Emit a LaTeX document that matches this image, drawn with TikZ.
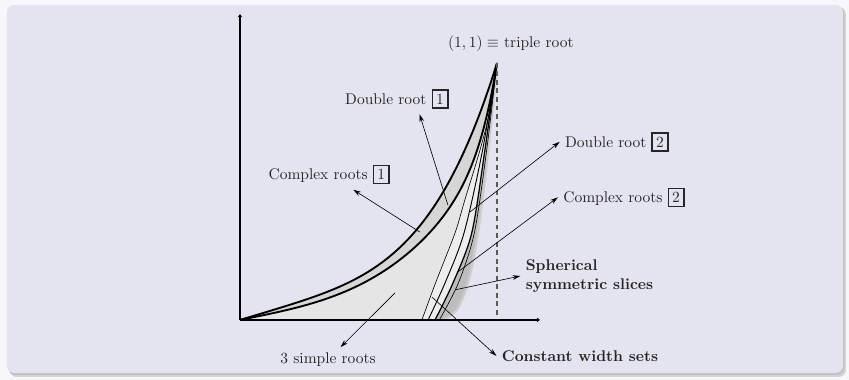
\documentclass[tikz,border=0pt]{standalone}
\usepackage{amsmath,amssymb}
\usepackage{tikz}
\usetikzlibrary{arrows.meta}

\definecolor{pagebg}{RGB}{247,246,251}
\definecolor{blockbg}{RGB}{228,227,240}
\definecolor{bandgray}{gray}{0.84}
\definecolor{simplegray}{gray}{0.90}
\definecolor{cwgray}{gray}{0.93}
\definecolor{cplxgray}{gray}{0.74}
\definecolor{rimgray}{gray}{0.80}

\setlength{\fboxrule}{1pt}
\setlength{\fboxsep}{2pt}

% boundary curves, (1,1) is the triple root
\newcommand{\curveU}{plot[domain=0.001:1,samples=80,smooth] (\x,{0.3*\x+0.7*\x^4.2})}
\newcommand{\curveL}{plot[domain=0.001:1,samples=80,smooth] (\x,{0.2*\x+0.5*\x^3.2+0.3*\x^15})}
\newcommand{\curveA}{plot[smooth] coordinates {(0.708,0) (0.761,0.144) (0.837,0.339) (0.875,0.467) (0.934,0.661) (0.973,0.817) (1,1)}}
\newcommand{\curveB}{plot[smooth] coordinates {(0.732,0) (0.798,0.144) (0.872,0.339) (0.944,0.661) (1,1)}}
\newcommand{\curveC}{plot[smooth] coordinates {(0.759,0) (0.829,0.144) (0.902,0.339) (0.953,0.661) (1,1)}}
\newcommand{\curveD}{plot[smooth] coordinates {(0.776,0) (0.850,0.144) (0.912,0.339) (0.960,0.661) (1,1)}}
\newcommand{\curveE}{plot[smooth] coordinates {(0.79,0) (0.843,0.039) (0.887,0.144) (0.926,0.339) (0.966,0.661) (1,1)}}

\tikzset{
  lbl/.style={text=black!85},
  bold/.style={text=black!85, font=\bfseries},
  pointer/.style={-{Stealth[length=5pt,width=3pt]}, thin}
}

\begin{document}
\begin{tikzpicture}[scale=5.83]
\fill[pagebg] (-0.934,-0.2335) rectangle (2.370,1.245);
\useasboundingbox (-0.934,-0.2335) rectangle (2.370,1.245);
\fill[black!30, opacity=0.5, rounded corners=4.5pt] (-0.897,-0.222) rectangle (2.358,1.216);
\fill[black!30, opacity=0.5, rounded corners=4.5pt] (-0.902,-0.214) rectangle (2.352,1.221);
\fill[blockbg, rounded corners=4.5pt] (-0.907,-0.206) rectangle (2.346,1.226);

\coordinate (O) at (0,0);
\coordinate (apex) at (1,1);
\coordinate (foot) at (1,0);
\coordinate (xend) at (1.167,0);
\coordinate (yend) at (0,1.19);

% regions
\fill[bandgray] \curveU -- (foot) -- (O) -- cycle;
\fill[simplegray] \curveL -- (foot) -- (O) -- cycle;
\fill[cwgray] \curveA -- (foot) -- cycle;
\fill[cplxgray] \curveC -- (foot) -- cycle;
\fill[blockbg] \curveE -- (foot) -- cycle;
\draw[rimgray, line width=1.5pt] \curveE;

% curves
\draw[very thick] \curveU;
\draw[very thick] \curveL;
\draw[thin] \curveA;
\draw[semithick] \curveB;
\draw[thick] \curveC;
\draw[thin] \curveD;

\draw[dashed, thick, gray!70!black, dash pattern=on 3pt off 2.5pt] (apex) -- (foot);
\draw[ultra thick, -{Stealth[length=2pt,width=3pt]}] (O) -- (xend);
\draw[ultra thick, -{Stealth[length=2pt,width=3pt]}] (O) -- (yend);

% labels
\node[lbl, anchor=west] (triple) at (0.789,1.077) {$(1,1)\equiv$ triple root};
\node[lbl, anchor=west] (dr1) at (0.388,0.860) {Double root \fbox{1}};
\node[lbl, anchor=west] (cr1) at (0.090,0.566) {Complex roots \fbox{1}};
\node[lbl, anchor=west] (dr2) at (1.244,0.693) {Double root \fbox{2}};
\node[lbl, anchor=west] (cr2) at (1.237,0.477) {Complex roots \fbox{2}};
\node[bold, anchor=west, align=left] (sph) at (1.091,0.171) {Spherical\\symmetric slices};
\node[bold, anchor=west] (cw) at (0.998,-0.140) {Constant width sets};
\node[lbl] (simple) at (0.343,-0.154) {3 simple roots};

% where the arrows start
\coordinate (pcr1) at (0.700,0.342);
\coordinate (pdr1) at (0.809,0.447);
\coordinate (pdr2) at (0.895,0.420);
\coordinate (pcr2) at (0.848,0.187);
\coordinate (psph) at (0.837,0.117);
\coordinate (pcw) at (0.747,0.089);
\coordinate (psimple) at (0.603,0.105);

\draw[pointer] (pcr1) -- (cr1);
\draw[pointer] (pdr1) -- (dr1.-34);
\draw[pointer] (pdr2) -- (dr2.west);
\draw[pointer] (pcr2) -- (cr2.west);
\draw[pointer] (psph) -- (sph.west);
\draw[pointer] (pcw) -- (cw.west);
\draw[pointer] (psimple) -- (simple);
\end{tikzpicture}
\end{document}
